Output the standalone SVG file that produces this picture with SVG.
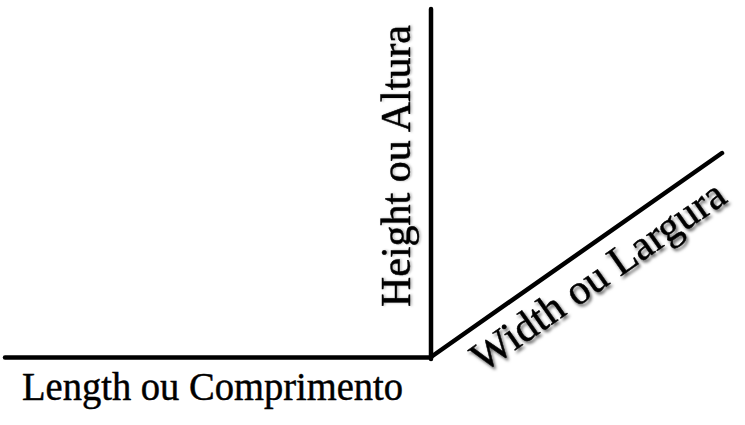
<svg xmlns="http://www.w3.org/2000/svg" width="745" height="425" viewBox="0 0 745 425">
  <defs>
    <filter id="shadow" x="-10%" y="-20%" width="120%" height="140%">
      <feDropShadow dx="2" dy="2.5" stdDeviation="1.8" flood-color="#000" flood-opacity="0.6"/>
    </filter>
    <filter id="shadowLight" x="-10%" y="-20%" width="120%" height="140%">
      <feDropShadow dx="1.5" dy="0" stdDeviation="1" flood-color="#000" flood-opacity="0.3"/>
    </filter>
  </defs>
  <style>
    .axis { stroke: #000; stroke-width: 4.5; stroke-linecap: round; fill: none; }
    .label { font-family: "Liberation Serif", "Times New Roman", serif; fill: #000; stroke: #000; stroke-width: 0.45; }
  </style>
  <rect width="745" height="425" fill="#fff"/>
  <g id="connectors">
    <line class="axis" x1="5" y1="357.5" x2="431" y2="357.5" stroke-linecap="butt"/>
    <line class="axis" x1="431" y1="359" x2="431" y2="9" stroke-linecap="butt"/>
    <line class="axis" x1="431" y1="357" x2="722" y2="153"/>
  </g>
  <g id="length">
    <text class="label" x="22" y="400" font-size="39" textLength="381" lengthAdjust="spacingAndGlyphs">Length ou Comprimento</text>
  </g>
  <g id="height" filter="url(#shadowLight)">
    <text class="label" transform="translate(410,307) rotate(-90)" font-size="42" textLength="282" lengthAdjust="spacingAndGlyphs">Height ou Altura</text>
  </g>
  <g id="width" filter="url(#shadow)">
    <text class="label" transform="translate(483,373) rotate(-35)" font-size="42" textLength="300" lengthAdjust="spacingAndGlyphs">Width ou Largura</text>
  </g>
</svg>
